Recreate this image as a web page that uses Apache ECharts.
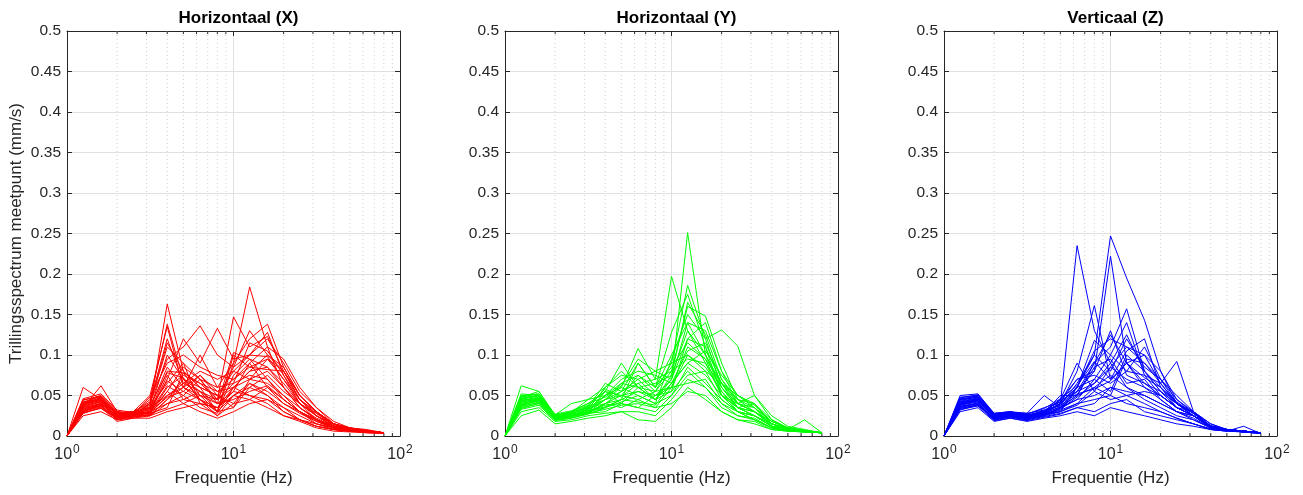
<!DOCTYPE html>
<html>
<head>
<meta charset="utf-8">
<script src="https://cdn.jsdelivr.net/npm/echarts@6/dist/echarts.min.js"></script>
<style>
html,body{margin:0;padding:0;background:#fff;}
#c{width:1303px;height:495px;}
</style>
</head>
<body>
<div id="c"></div>
<script>
// ---------- DATA ----------
const freqs = [1,1.25,1.6,2,2.5,3.15,4,5,6.3,8,10,12.5,16,20,25,31.5,40,50,63,80];
const minorFreqs = [2,3,4,5,6,7,8,9,20,30,40,50,60,70,80,90];
const titles = ['Horizontaal (X)','Horizontaal (Y)','Verticaal (Z)'];
const yLabel = 'Trillingsspectrum meetpunt (mm/s)';
const xLabel = 'Frequentie (Hz)';
const yTicks = [0,0.05,0.1,0.15,0.2,0.25,0.3,0.35,0.4,0.45,0.5];

const seriesX = [
[0,.060,.045,.028,.030,.035,.163,.080,.060,.050,.040,.065,.055,.040,.030,.020,.012,.008,.006,.004],
[0,.040,.050,.030,.028,.045,.138,.070,.055,.045,.060,.070,.095,.080,.045,.030,.015,.008,.006,.004],
[0,.038,.048,.025,.030,.050,.135,.060,.100,.060,.090,.120,.138,.085,.050,.030,.015,.010,.006,.004],
[0,.035,.062,.030,.025,.040,.095,.110,.136,.100,.085,.130,.100,.080,.045,.025,.012,.008,.005,.004],
[0,.042,.045,.020,.025,.030,.070,.120,.090,.133,.095,.100,.128,.075,.040,.025,.015,.010,.008,.004],
[0,.030,.040,.022,.030,.028,.060,.075,.065,.045,.147,.110,.123,.080,.050,.030,.015,.010,.006,.004],
[0,.036,.042,.028,.025,.035,.050,.065,.055,.030,.090,.184,.110,.060,.035,.020,.012,.008,.006,.004],
[0,.040,.046,.025,.030,.040,.115,.080,.060,.050,.080,.100,.098,.070,.040,.025,.012,.008,.006,.004],
[0,.032,.038,.030,.027,.030,.080,.078,.065,.055,.070,.085,.082,.080,.050,.030,.015,.010,.007,.004],
[0,.028,.035,.018,.022,.025,.045,.060,.050,.040,.103,.095,.085,.060,.040,.020,.010,.006,.005,.004],
[0,.045,.048,.025,.028,.030,.055,.040,.050,.045,.065,.075,.070,.050,.030,.020,.012,.008,.006,.004],
[0,.035,.040,.025,.030,.028,.035,.078,.050,.030,.050,.060,.050,.035,.025,.015,.010,.007,.005,.004],
[0,.030,.036,.022,.026,.025,.040,.045,.055,.040,.055,.050,.045,.030,.020,.015,.008,.006,.005,.004],
[0,.025,.030,.020,.022,.022,.030,.035,.040,.025,.040,.045,.035,.025,.018,.010,.006,.005,.004,.003],
[0,.038,.044,.027,.028,.032,.100,.070,.045,.030,.035,.070,.080,.060,.035,.020,.010,.007,.005,.004],
[0,.033,.040,.024,.026,.030,.062,.050,.070,.040,.045,.055,.062,.045,.030,.018,.010,.007,.005,.004],
[0,.040,.045,.026,.028,.033,.068,.055,.045,.035,.060,.080,.085,.065,.040,.025,.012,.008,.006,.004],
[0,.036,.042,.023,.025,.028,.050,.060,.045,.025,.050,.065,.050,.030,.020,.012,.008,.006,.005,.004],
[0,.042,.049,.028,.027,.030,.040,.050,.035,.028,.060,.050,.040,.025,.020,.012,.008,.006,.005,.004],
[0,.030,.038,.020,.024,.026,.045,.070,.060,.030,.075,.095,.070,.045,.030,.020,.010,.007,.005,.004],
[0,.034,.040,.025,.026,.028,.075,.045,.040,.035,.050,.045,.060,.045,.030,.015,.010,.007,.005,.004],
[0,.028,.035,.022,.024,.025,.033,.040,.030,.022,.030,.040,.045,.035,.020,.012,.008,.006,.004,.003],
[0,.039,.044,.027,.029,.034,.085,.060,.075,.055,.060,.080,.100,.085,.050,.030,.012,.008,.006,.004],
[0,.044,.050,.030,.027,.040,.110,.090,.070,.045,.085,.100,.120,.090,.055,.035,.018,.010,.007,.004],
[0,.037,.043,.026,.027,.048,.090,.100,.085,.075,.070,.090,.110,.095,.060,.035,.015,.009,.006,.004],
[0,.033,.039,.024,.028,.038,.078,.072,.045,.030,.100,.085,.095,.070,.045,.025,.012,.008,.006,.004],
[0,.041,.047,.029,.030,.042,.120,.065,.080,.070,.080,.070,.065,.050,.035,.022,.012,.008,.006,.004],
[0,.029,.034,.021,.023,.027,.055,.085,.070,.060,.065,.115,.105,.075,.045,.028,.014,.009,.006,.004],
[0,.046,.052,.032,.029,.036,.065,.090,.040,.035,.055,.090,.060,.040,.028,.018,.010,.007,.005,.004],
[0,.031,.037,.023,.025,.029,.048,.055,.075,.050,.035,.060,.075,.055,.040,.028,.014,.009,.006,.004]
];

const seriesY = [
[0,.062,.055,.025,.030,.040,.055,.090,.060,.045,.070,.251,.100,.060,.035,.025,.012,.008,.006,.004],
[0,.045,.050,.022,.025,.030,.050,.060,.108,.070,.197,.130,.090,.050,.030,.020,.010,.007,.005,.004],
[0,.048,.052,.025,.028,.035,.040,.055,.070,.080,.090,.186,.120,.060,.035,.030,.015,.008,.006,.004],
[0,.040,.045,.020,.025,.028,.040,.045,.090,.060,.128,.175,.110,.050,.040,.035,.012,.008,.006,.004],
[0,.050,.048,.024,.030,.038,.055,.050,.075,.055,.080,.160,.148,.090,.045,.040,.015,.010,.007,.004],
[0,.042,.046,.022,.026,.032,.045,.060,.050,.040,.095,.150,.120,.131,.111,.050,.025,.012,.008,.004],
[0,.038,.044,.020,.024,.030,.035,.045,.055,.050,.070,.140,.130,.080,.040,.030,.012,.008,.006,.004],
[0,.046,.050,.025,.027,.036,.045,.065,.060,.065,.075,.130,.100,.055,.035,.040,.015,.008,.006,.004],
[0,.044,.048,.023,.028,.035,.065,.055,.090,.060,.085,.115,.095,.065,.050,.035,.018,.010,.007,.004],
[0,.035,.040,.020,.022,.028,.040,.035,.045,.035,.060,.100,.085,.055,.030,.020,.010,.007,.005,.004],
[0,.048,.055,.026,.030,.034,.050,.070,.080,.075,.065,.090,.075,.050,.035,.025,.012,.008,.006,.004],
[0,.036,.042,.022,.024,.028,.030,.040,.035,.030,.050,.085,.065,.045,.030,.025,.012,.008,.006,.004],
[0,.030,.035,.018,.020,.025,.028,.030,.030,.025,.045,.070,.060,.035,.025,.020,.010,.006,.005,.004],
[0,.040,.046,.023,.026,.030,.040,.050,.045,.055,.060,.065,.070,.040,.030,.025,.015,.008,.020,.004],
[0,.025,.032,.015,.018,.022,.025,.030,.020,.018,.035,.060,.045,.030,.020,.015,.008,.006,.005,.004],
[0,.042,.045,.022,.026,.030,.055,.040,.060,.045,.055,.120,.110,.065,.040,.050,.020,.010,.006,.004],
[0,.038,.043,.020,.025,.028,.033,.038,.040,.035,.040,.055,.050,.030,.020,.018,.008,.006,.005,.004],
[0,.046,.050,.024,.028,.033,.045,.055,.065,.070,.080,.095,.090,.060,.040,.030,.018,.010,.006,.004],
[0,.033,.038,.019,.022,.027,.035,.042,.050,.040,.050,.075,.080,.045,.030,.025,.012,.008,.005,.004],
[0,.050,.052,.026,.040,.045,.060,.075,.070,.050,.060,.110,.095,.050,.035,.030,.015,.008,.006,.004],
[0,.044,.047,.024,.027,.030,.038,.040,.035,.050,.055,.080,.060,.040,.025,.022,.010,.007,.005,.004],
[0,.037,.041,.021,.024,.029,.045,.050,.055,.045,.065,.105,.115,.070,.045,.035,.015,.008,.006,.004],
[0,.043,.047,.023,.029,.045,.050,.065,.075,.060,.100,.140,.100,.065,.045,.030,.015,.009,.006,.004],
[0,.039,.044,.021,.025,.033,.060,.080,.060,.055,.090,.100,.080,.065,.035,.025,.012,.008,.006,.004],
[0,.052,.050,.027,.031,.040,.048,.062,.095,.080,.070,.120,.140,.080,.050,.040,.020,.010,.007,.004],
[0,.034,.040,.020,.023,.031,.036,.045,.042,.038,.065,.090,.105,.075,.050,.038,.018,.010,.006,.004],
[0,.047,.049,.025,.028,.037,.058,.048,.065,.045,.075,.165,.125,.070,.040,.030,.015,.009,.006,.004]
];

const seriesZ = [
[0,.040,.045,.025,.028,.025,.030,.040,.235,.130,.090,.060,.050,.040,.030,.025,.012,.008,.006,.004],
[0,.045,.050,.028,.030,.026,.025,.035,.060,.100,.247,.195,.143,.080,.040,.025,.012,.008,.006,.004],
[0,.042,.046,.026,.028,.024,.030,.045,.070,.080,.222,.090,.060,.045,.030,.025,.010,.007,.005,.004],
[0,.038,.044,.024,.026,.022,.028,.040,.080,.161,.070,.105,.120,.060,.035,.030,.012,.008,.006,.004],
[0,.050,.052,.028,.030,.028,.050,.035,.050,.090,.110,.157,.080,.055,.040,.025,.012,.008,.006,.004],
[0,.036,.040,.022,.025,.022,.025,.030,.060,.118,.100,.140,.075,.065,.040,.025,.012,.008,.006,.004],
[0,.040,.045,.024,.027,.025,.030,.040,.055,.090,.125,.090,.100,.065,.092,.030,.015,.008,.006,.004],
[0,.044,.048,.026,.029,.028,.032,.038,.065,.100,.080,.120,.085,.070,.040,.030,.012,.008,.006,.004],
[0,.035,.040,.020,.024,.020,.025,.035,.045,.070,.100,.080,.075,.050,.035,.025,.010,.007,.005,.004],
[0,.032,.038,.022,.025,.022,.028,.030,.040,.060,.050,.095,.090,.070,.050,.030,.012,.008,.006,.004],
[0,.045,.048,.025,.028,.025,.030,.045,.090,.055,.085,.070,.060,.050,.035,.025,.010,.008,.006,.004],
[0,.038,.042,.023,.026,.023,.027,.034,.045,.050,.060,.055,.050,.040,.030,.020,.010,.007,.005,.004],
[0,.030,.035,.018,.022,.018,.022,.025,.030,.025,.035,.030,.025,.020,.015,.012,.008,.006,.005,.003],
[0,.034,.038,.020,.023,.020,.024,.028,.035,.030,.040,.045,.030,.025,.020,.015,.009,.007,.005,.003],
[0,.040,.044,.024,.027,.024,.030,.040,.060,.070,.055,.100,.080,.060,.040,.028,.012,.008,.006,.004],
[0,.042,.046,.025,.028,.026,.029,.050,.050,.085,.095,.065,.070,.045,.030,.022,.010,.007,.005,.004],
[0,.036,.041,.021,.024,.021,.026,.032,.040,.045,.050,.040,.035,.030,.022,.015,.008,.006,.012,.003],
[0,.048,.050,.027,.029,.027,.035,.042,.070,.075,.065,.080,.110,.070,.045,.030,.015,.008,.006,.004],
[0,.033,.037,.019,.022,.019,.023,.027,.035,.040,.060,.050,.055,.050,.035,.025,.012,.008,.006,.004],
[0,.039,.043,.023,.026,.023,.028,.036,.050,.060,.075,.060,.045,.035,.025,.020,.010,.007,.005,.004],
[0,.046,.049,.027,.030,.026,.031,.044,.055,.065,.090,.125,.080,.055,.035,.025,.012,.008,.006,.004],
[0,.037,.040,.022,.025,.022,.026,.030,.038,.055,.045,.050,.040,.030,.022,.015,.008,.006,.005,.003],
[0,.043,.047,.025,.027,.024,.032,.042,.060,.105,.120,.110,.090,.065,.040,.028,.012,.008,.006,.004],
[0,.041,.045,.024,.028,.025,.028,.036,.055,.080,.130,.075,.065,.050,.035,.025,.011,.008,.006,.004],
[0,.047,.051,.027,.029,.027,.034,.046,.062,.092,.070,.090,.065,.055,.040,.028,.012,.008,.006,.004],
[0,.034,.039,.021,.024,.021,.027,.033,.048,.065,.085,.110,.100,.080,.045,.028,.012,.008,.006,.004],
[0,.039,.043,.023,.026,.023,.029,.038,.052,.058,.068,.090,.072,.060,.042,.028,.013,.008,.006,.004]
];

const panels = [
  {data: seriesX, color: '#ff0000'},
  {data: seriesY, color: '#00ff00'},
  {data: seriesZ, color: '#0000ff'}
];

// ---------- LAYOUT ----------
const gridLefts = [67, 505, 944];
const gridW = 333, gridTop = 31, gridH = 405;
const AX = '#262626', GRID = '#e1e1e1', FONT = 'Liberation Sans, Arial, sans-serif';

const chart = echarts.init(document.getElementById('c'), null, {renderer: 'canvas'});

const grids = [], xAxes = [], yAxes = [], series = [], titleArr = [];
panels.forEach((p, i) => {
  grids.push({left: gridLefts[i], top: gridTop, width: gridW, height: gridH, containLabel: false});
  titleArr.push({
    text: titles[i], left: gridLefts[i] + gridW / 2, top: 5, textAlign: 'center',
    textStyle: {fontFamily: FONT, fontSize: 17, fontWeight: 'bold', color: '#000'}
  });
  xAxes.push({
    type: 'log', logBase: 10, min: 1, max: 100, gridIndex: i, position: 'bottom',
    name: xLabel, nameLocation: 'middle', nameGap: 34,
    nameTextStyle: {fontFamily: FONT, fontSize: 17, color: AX},
    axisLine: {show: true, onZero: false, lineStyle: {color: AX, width: 1}},
    axisTick: {show: true, inside: true, length: 5, lineStyle: {color: AX}},
    axisLabel: {
      show: true, margin: 8, color: AX, fontFamily: FONT, fontSize: 16,
      formatter: v => '10{s|' + Math.round(Math.log10(v)) + '}',
      rich: {s: {fontSize: 12, fontFamily: FONT, color: AX, verticalAlign: 'top', padding: [0, 0, 9, 1]}}
    },
    splitLine: {show: true, lineStyle: {color: GRID, width: 1}}
  });
  xAxes.push({
    type: 'log', logBase: 10, min: 1, max: 100, gridIndex: i, position: 'top',
    axisLine: {show: true, onZero: false, lineStyle: {color: AX, width: 1}},
    axisTick: {show: true, inside: true, length: 5, lineStyle: {color: AX}},
    axisLabel: {show: false}, splitLine: {show: false}
  });
  yAxes.push({
    type: 'value', min: 0, max: 0.5, interval: 0.05, gridIndex: i, position: 'left',
    name: i === 0 ? yLabel : '', nameLocation: 'middle', nameGap: 42, nameRotate: 90,
    nameTextStyle: {fontFamily: FONT, fontSize: 17, color: AX},
    axisLine: {show: true, onZero: false, lineStyle: {color: AX, width: 1}},
    axisTick: {show: true, inside: true, length: 5, lineStyle: {color: AX}},
    axisLabel: {show: true, margin: 6, color: AX, fontFamily: FONT, fontSize: 15.5,
      formatter: v => String(+v.toFixed(2))},
    splitLine: {show: true, lineStyle: {color: GRID, width: 1}}
  });
  yAxes.push({
    type: 'value', min: 0, max: 0.5, interval: 0.05, gridIndex: i, position: 'right',
    axisLine: {show: true, onZero: false, lineStyle: {color: AX, width: 1}},
    axisTick: {show: true, inside: true, length: 5, lineStyle: {color: AX}},
    axisLabel: {show: false}, splitLine: {show: false}
  });

  series.push({
    type: 'custom', coordinateSystem: 'cartesian2d', xAxisIndex: i * 2, yAxisIndex: i * 2,
    silent: true, z: 1, clip: false,
    data: minorFreqs.map(f => [f, 0]),
    renderItem: (params, api) => {
      const b = api.coord([api.value(0), 0]);
      const t = api.coord([api.value(0), 0.5]);
      return {
        type: 'group', children: [
          {type: 'line', shape: {x1: b[0], y1: b[1], x2: t[0], y2: t[1]},
            style: {stroke: '#cfcfcf', lineWidth: 1, lineDash: [1, 3]}},
          {type: 'line', shape: {x1: b[0], y1: b[1], x2: b[0], y2: b[1] - 3},
            style: {stroke: AX, lineWidth: 1}},
          {type: 'line', shape: {x1: t[0], y1: t[1], x2: t[0], y2: t[1] + 3},
            style: {stroke: AX, lineWidth: 1}}
        ]
      };
    }
  });

  p.data.forEach(vals => {
    series.push({
      type: 'line', xAxisIndex: i * 2, yAxisIndex: i * 2, z: 3,
      data: freqs.map((f, k) => [f, vals[k]]),
      symbol: 'none', silent: true, animation: false,
      lineStyle: {color: p.color, width: 1},
      itemStyle: {color: p.color}
    });
  });
});

chart.setOption({
  backgroundColor: '#fff',
  animation: false,
  title: titleArr,
  grid: grids,
  xAxis: xAxes,
  yAxis: yAxes,
  series: series
});
</script>
</body>
</html>
